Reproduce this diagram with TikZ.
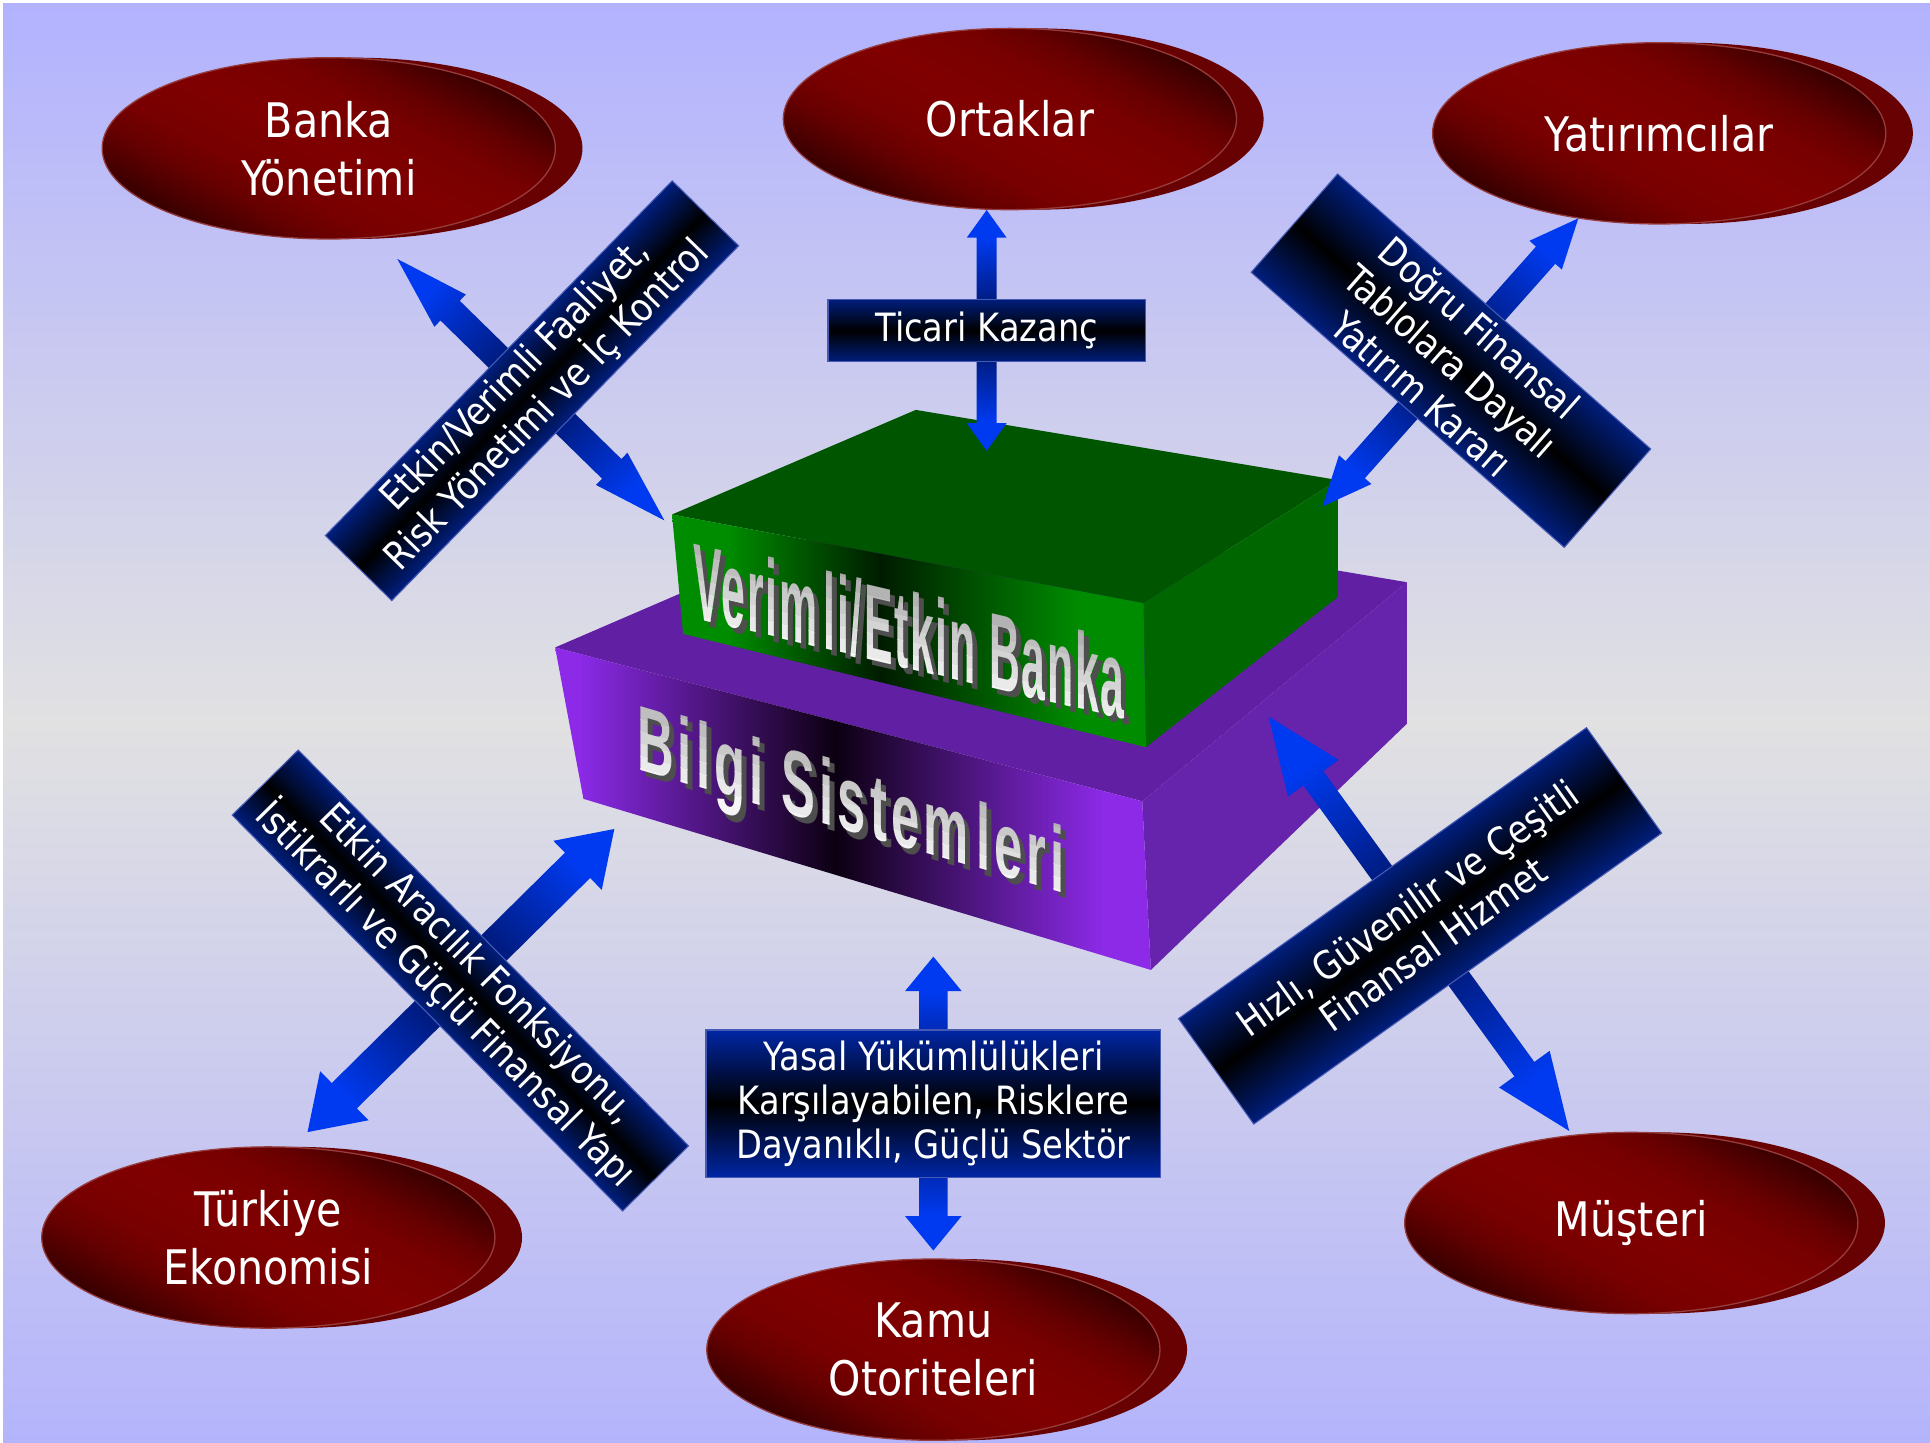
\documentclass[tikz,border=0pt]{standalone}
\usepackage{fontspec}
\setmainfont{DejaVu Sans}[FakeStretch=0.865]
\newfontfamily\wafont{Liberation Sans}
\usetikzlibrary{shapes.geometric}

\definecolor{lavT}{RGB}{178,178,255}
\definecolor{lavB}{RGB}{180,180,252}
\definecolor{bgmid}{RGB}{225,225,226}
\definecolor{redB}{RGB}{128,0,0}
\definecolor{redM}{RGB}{120,0,0}
\definecolor{redN}{RGB}{102,0,0}
\definecolor{redE}{RGB}{76,0,0}
\definecolor{redD}{RGB}{55,0,0}
\definecolor{backred}{RGB}{104,2,2}
\definecolor{rimline}{RGB}{150,60,60}
\definecolor{gB}{RGB}{0,140,0}
\definecolor{gD}{RGB}{0,28,0}
\definecolor{gTop}{RGB}{0,85,0}
\definecolor{gSide}{RGB}{0,103,0}
\definecolor{pB}{RGB}{140,42,232}
\definecolor{pD}{RGB}{12,0,18}
\definecolor{pTop}{RGB}{97,32,164}
\definecolor{pSide}{RGB}{102,35,172}
\definecolor{bnavy}{RGB}{0,30,125}
\definecolor{bnavyY}{RGB}{0,38,165}
\definecolor{bandedge}{RGB}{70,90,180}
\definecolor{arB}{RGB}{0,58,240}
\definecolor{arD}{RGB}{0,28,130}
\definecolor{shadowgray}{RGB}{78,78,78}

\pgfdeclareverticalshading{bgsh}{100bp}{color(0bp)=(lavB); color(25bp)=(lavB); color(50bp)=(bgmid); color(75bp)=(lavT); color(100bp)=(lavT)}
\pgfdeclarehorizontalshading{ellsh}{100bp}{color(0bp)=(redD); color(25bp)=(redD); color(29bp)=(redE); color(34bp)=(redN); color(40bp)=(redM); color(50bp)=(redB); color(60bp)=(redM); color(66bp)=(redN); color(71bp)=(redE); color(75bp)=(redD); color(100bp)=(redD)}
\pgfdeclarehorizontalshading{greensh}{100bp}{color(0bp)=(gB); color(31bp)=(gB); color(47bp)=(gD); color(68bp)=(gB); color(100bp)=(gB)}
\pgfdeclarehorizontalshading{purpsh}{100bp}{color(0bp)=(pB); color(27bp)=(pB); color(48.5bp)=(pD); color(71bp)=(pB); color(100bp)=(pB)}
\pgfdeclareverticalshading{bandsh}{100bp}{color(0bp)=(bnavy); color(25bp)=(bnavy); color(50bp)=(black); color(75bp)=(bnavy); color(100bp)=(bnavy)}
\pgfdeclareverticalshading{yasalsh}{100bp}{color(0bp)=(bnavyY); color(25bp)=(bnavyY); color(50bp)=(black); color(75bp)=(bnavyY); color(100bp)=(bnavyY)}
\pgfdeclarehorizontalshading{arrsh}{100bp}{color(0bp)=(arB); color(31bp)=(arB); color(44bp)=(arD); color(56bp)=(arD); color(69bp)=(arB); color(100bp)=(arB)}

\tikzset{
  ell/.style={ellipse, minimum width=3.68cm, minimum height=1.472cm, inner sep=0pt,
    draw=rimline, line width=0.3pt, text=white,
    align=center, font=\fontsize{11}{13.4}\selectfont},
  bandtext/.style={text=white, align=center, inner sep=0pt, font=\fontsize{9}{10.2}\selectfont},
  backell/.style={fill=backred}
}

% ellipse with a back rim and a diagonal dark-red-dark gradient
\newcommand\ellnode[3]{%
  \coordinate (#1c) at #2;
  \fill[backell] ([xshift=0.22cm]#1c) ellipse [x radius=1.84cm, y radius=0.736cm];
  \begin{scope}
    \clip (#1c) ellipse [x radius=1.84cm, y radius=0.736cm];
    \path (#1c); \pgfgetlastxy{\ex}{\ey}%
    \begin{scope}[transform canvas={shift={(\ex,\ey)},rotate=62}]
      \shade[shading=ellsh] (-108,-260) rectangle (108,260);
    \end{scope}
  \end{scope}
  \node[ell] (#1) at (#1c) {#3};}

% double block arrow between two named coordinates
\newcommand\blockarrow[5]{%
  \path (#1); \pgfgetlastxy{\ax}{\ay}%
  \path (#2); \pgfgetlastxy{\bx}{\by}%
  \pgfmathsetmacro\aang{atan2(\by-\ay,\bx-\ax)}%
  \pgfmathsetmacro\alen{veclen(\bx-\ax,\by-\ay)/0.284528}%
  \pgfmathsetmacro\aback{\alen-#5}%
  \begin{scope}[transform canvas={shift={(\ax,\ay)},rotate=\aang}]
    \shade[shading=arrsh] (0,0) -- (#5,#4) -- (#5,#3) -- (\aback,#3) -- (\aback,#4) -- (\alen,0)
      -- (\aback,-#4) -- (\aback,-#3) -- (#5,-#3) -- (#5,-#4) -- cycle;
  \end{scope}}

% rotated band with text
\newcommand\band[7]{%
  \begin{scope}[transform canvas={shift={#2},rotate=#3}]
    \shade[shading=#6, draw=bandedge, line width=0.25pt] ({-#4/2},{-#5/2}) rectangle ({#4/2},{#5/2});
    \node[bandtext] (#1) at (0,0) {#7};
  \end{scope}}

% slanted word-art text with shadow and vertical grey-to-white gradient
\newcommand\wordart[8]{%
  \begin{scope}[shift={(#2,#3)}, yslant=-#4]
    \node[transform shape, anchor=base west, inner sep=0pt, text=shadowgray,
      font=\wafont\bfseries\fontsize{#6}{#6}\selectfont\addfontfeature{LetterSpace=#7}]
      (#1s) at (4,4) {\scalebox{#5}[1]{#8}};
    \foreach \k in {0,...,7}{
      \pgfmathtruncatemacro\gv{168+11*\k}
      \definecolor{wacol}{RGB}{\gv,\gv,\gv}
      \begin{scope}
        \clip (-30,{-72+10*\k}) -- (430,{-72+10*\k}) -- (430,{-61.5+10*\k+30*(\k==7)}) -- (-30,{-61.5+10*\k+30*(\k==7)}) -- cycle;
        \node[transform shape, anchor=base west, inner sep=0pt, text=wacol,
          font=\wafont\bfseries\fontsize{#6}{#6}\selectfont\addfontfeature{LetterSpace=#7}]
          (#1) at (0,0) {\scalebox{#5}[1]{#8}};
      \end{scope}
    }
  \end{scope}}

\begin{document}
\begin{tikzpicture}[x=0.01cm, y=-0.01cm]
\useasboundingbox (0,0) rectangle (1568,1172);
\fill[white] (0,0) rectangle (1568,1172);
\shade[shading=bgsh] (2.5,2.5) rectangle (1568,1172);

% ---- ellipses
\ellnode{banka}{(267.1,120.5)}{Banka\\Yönetimi}
\ellnode{ortak}{(820.5,96.7)}{Ortaklar}
\ellnode{yatir}{(1348,108.3)}{Yatırımcılar}
\ellnode{turk}{(218,1005.4)}{Türkiye\\Ekonomisi}
\ellnode{kamu}{(758.3,1096.5)}{Kamu\\Otoriteleri}
\ellnode{must}{(1325.3,993.6)}{Müşteri}

% ---- purple block
\coordinate (P1) at (451,526);
\coordinate (P2) at (928,651);
\coordinate (P3) at (935,788);
\coordinate (P4) at (474,649);
\coordinate (P5) at (1143,473);
\coordinate (P6) at (1143,588);
\coordinate (P7) at (734,404);
\fill[pTop] (P1) -- (P7) -- (P5) -- (P2) -- cycle;
\fill[pSide] (P2) -- (P5) -- (P6) -- (P3) -- cycle;
\shade[shading=purpsh] (P1) -- (P2) -- (P3) -- (P4) -- cycle;

% ---- green block
\coordinate (G1) at (546,418);
\coordinate (G2) at (744,333);
\coordinate (G3) at (1087,390);
\coordinate (G4) at (929,490);
\coordinate (G5) at (931,607);
\coordinate (G6) at (555,515);
\coordinate (G7) at (1087,485);
\fill[gTop] (G1) -- (G2) -- (G3) -- (G4) -- cycle;
\fill[gSide] (G4) -- (G3) -- (G7) -- (G5) -- cycle;
\shade[shading=greensh] (G1) -- (G4) -- (G5) -- (G6) -- cycle;

% ---- block texts
\wordart{banktext}{563}{502}{0.235}{0.395}{25}{4}{Verim\kern0.15em li/Etkin Banka}
\wordart{bilgitext}{517}{625}{0.29}{0.547}{21.45}{8}{Bilgi Sistem\kern0.15em leri}

% ---- arrows
\coordinate (eT) at (801.6,170.6);  \coordinate (eB) at (801.6,366.4);
\coordinate (fT) at (758.3,777.2);  \coordinate (fB) at (758.3,1016.1);
\coordinate (aT) at (322.8,210.4);  \coordinate (aB) at (540.4,423.4);
\coordinate (bT) at (1282.3,177.4); \coordinate (bB) at (1073.8,412.2);
\coordinate (cT) at (499.1,673.5);  \coordinate (cB) at (249.7,919.9);
\coordinate (dT) at (1030.6,582.1); \coordinate (dB) at (1275.3,919.4);
\blockarrow{eT}{eB}{8.1}{16.2}{22.5}
\blockarrow{fT}{fB}{11.5}{23}{28}
\blockarrow{aT}{aB}{11.2}{18.3}{60}
\blockarrow{bT}{bB}{10.5}{17.6}{40}
\blockarrow{cT}{cB}{14.5}{28}{42}
\blockarrow{dT}{dB}{10}{25.4}{62}

% ---- bands
\band{ticari}{(801.6,268.5)}{0}{257.8}{50.6}{bandsh}{Ticari Kazanç}
\band{yasal}{(758.3,896.65)}{0}{369.4}{119.7}{yasalsh}{Yasal Yükümlülükleri\\Karşılayabilen, Risklere\\Dayanıklı, Güçlü Sektör}
\band{bandA}{(432.2,317.4)}{45.64}{403.1}{75.5}{bandsh}{Etkin/Verimli Faaliyet,\\Risk Yönetimi ve İç Kontrol}
\band{bandB}{(1178.8,293)}{-41.3}{338.6}{106.4}{bandsh}{Doğru Finansal\\Tablolara Dayalı\\Yatırım Kararı}
\band{bandC}{(374.05,796.6)}{-45.4}{451.7}{75.3}{bandsh}{Etkin Aracılık Fonksiyonu,\\İstikrarlı ve Güçlü Finansal Yapı}
\band{bandD}{(1153.75,752.2)}{35.5}{407.1}{105.2}{bandsh}{Hızlı, Güvenilir ve Çeşitli\\Finansal Hizmet}
\end{tikzpicture}
\end{document}
